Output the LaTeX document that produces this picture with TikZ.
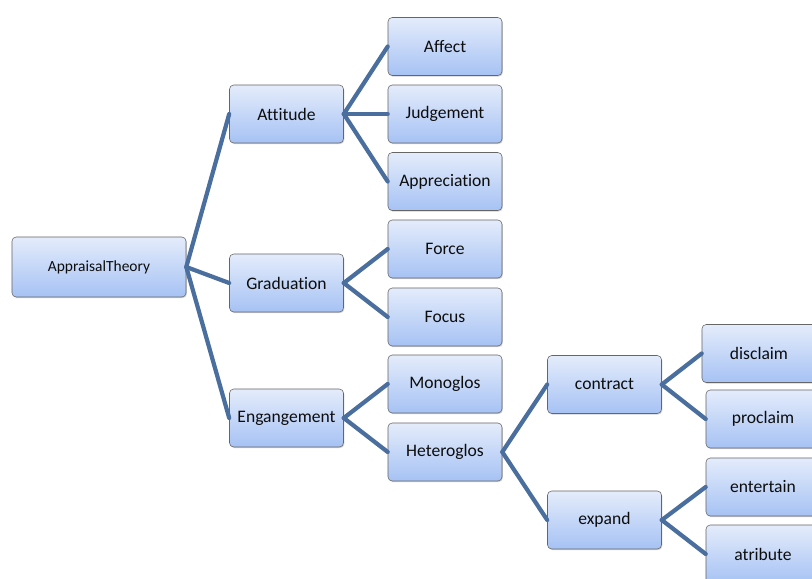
\documentclass[tikz,border=0pt]{standalone}
\usepackage{fontspec}
\setmainfont{Carlito}[Ligatures={NoCommon,NoContextual}]
\usetikzlibrary{positioning,shadows}
\definecolor{boxtop}{HTML}{E4ECFB}
\definecolor{boxbottom}{HTML}{A6C2F4}
\definecolor{linkblue}{HTML}{4A6E9E}
\def\bw{2.85cm}
\def\bh{1.45cm}
\tikzstyle{box}=[draw=black!60,rounded corners=3pt,top color=boxtop,bottom color=boxbottom,
  minimum width=\bw,minimum height=\bh,inner sep=0pt,text=black!95,font=\fontsize{12.5}{14}\selectfont,
  drop shadow={shadow xshift=0.6pt,shadow yshift=-0.8pt,opacity=0.35}]
\tikzstyle{link}=[draw=linkblue,line width=3pt,line cap=round]
\newcommand{\newBox}[4]{\node[box,#3](#1) at (#4) {#2};}
\newcommand{\newLink}[2]{\path[link] (#1.east) -- (#2.west);}

\begin{document}
\begin{tikzpicture}[x=0.025cm,y=-0.025cm]
      \useasboundingbox (0,0) rectangle (812,579);
      \newBox{theory}{AppraisalTheory}{minimum width=4.35cm,minimum height=1.5cm,font=\fontsize{11}{13}\selectfont}{99,267}
      \newBox{attitude}{Attitude}{}{286.5,114}
      \newBox{graduation}{Graduation}{}{286.5,283}
      \newBox{engagement}{Engangement}{}{286.5,418}
      
      \newBox{affect}{Affect}{}{445,46.5}
      \newBox{judgement}{Judgement}{}{445,114}
      \newBox{appreciation}{Appreciation}{}{445,181.5}
      \newBox{force}{Force}{}{445,249}
      \newBox{focus}{Focus}{}{445,317}
      \newBox{monoglos}{Monoglos}{}{445,384}
      \newBox{heteroglos}{Heteroglos}{}{445,452}
      
      \newBox{contract}{contract}{}{604.5,384.5}
      \newBox{expand}{expand}{}{604.5,520}
      
      \newBox{disclaim}{disclaim}{}{759,353.5}
      \newBox{proclaim}{proclaim}{}{763,419}
      \newBox{entertain}{entertain}{}{763,487}
      \newBox{atribute}{atribute}{}{763,554}
      
      \newLink{theory}{attitude}
      \newLink{theory}{graduation}
      \newLink{theory}{engagement}
      \newLink{attitude}{affect}
      \newLink{attitude}{judgement}
      \newLink{attitude}{appreciation}
      \newLink{graduation}{force}
      \newLink{graduation}{focus}
      \newLink{engagement}{monoglos}
      \newLink{engagement}{heteroglos}
      \newLink{heteroglos}{contract}
      \newLink{heteroglos}{expand}
      \newLink{contract}{disclaim}
      \newLink{contract}{proclaim}
      \newLink{expand}{entertain}
      \newLink{expand}{atribute}
    \end{tikzpicture}
\end{document}
